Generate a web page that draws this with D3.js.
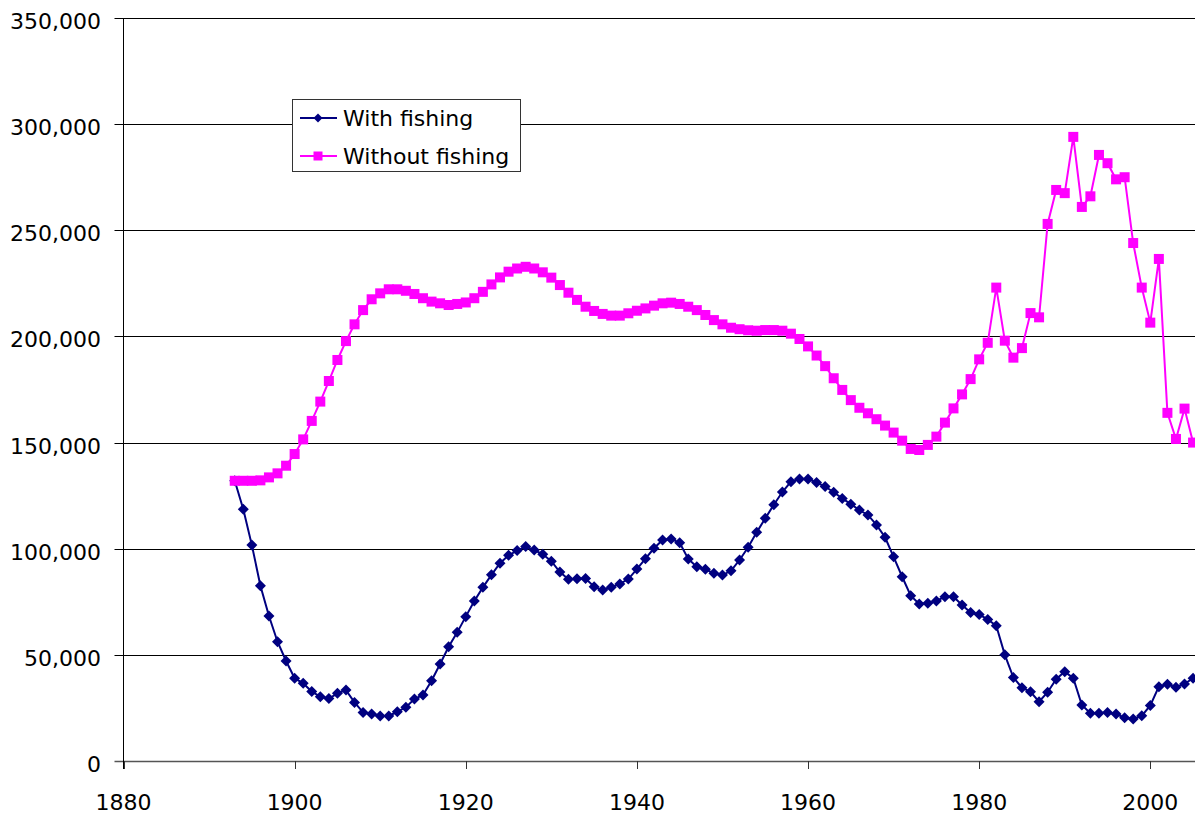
<!DOCTYPE html>
<html>
<head>
<meta charset="utf-8">
<style>
    body { margin: 0; background: #fff; }
    text { font-family: "DejaVu Sans", Verdana, sans-serif; font-size: 22px; fill: #000; }
</style>
<script src="https://d3js.org/d3.v7.min.js"></script>
</head>
<body>
<svg width="1195" height="816"></svg>
<script>

// values, one per year from 1893 to 2005
var withFishing = [
    132000, 118600, 101700, 82600, 68300, 56200, 47100,
    39000, 36600, 32700, 30300, 29400, 31900, 33400, 27600, 22900, 22100,
    21200, 21200, 23200, 25300, 29200, 31100, 37800, 45700, 53800, 60600,
    68000, 75400, 81800, 87700, 93200, 96900, 99100, 101000, 99400, 97400,
    94100, 89000, 85600, 85900, 86000, 82100, 80500, 81800, 83400, 85700,
    90400, 95300, 100200, 104100, 104600, 102800, 95200, 91500, 90300, 88400,
    87600, 89600, 94700, 100700, 107700, 114300, 120700, 126700, 131600, 132800,
    132800, 131200, 129300, 126600, 123700, 121000, 118200, 115900, 111200, 105400,
    96200, 86800, 77900, 74000, 74300, 75400, 77400, 77400, 73500, 69900,
    69000, 66700, 63700, 50000, 39300, 34500, 32600, 27900, 32400, 38500,
    42100, 39000, 26400, 22500, 22500, 22800, 22100, 20400, 19800, 21300,
    26200, 35000, 36100, 34700, 36300, 39000
];

var withoutFishing = [
    132000, 132000, 132000, 132200, 133600, 135500, 139100,
    144600, 151500, 160200, 169300, 179000, 188900, 197800, 205700, 212400, 217500,
    220300, 222200, 222200, 221500, 220000, 218000, 216400, 215600, 214800, 215300,
    216000, 218000, 221000, 224500, 227800, 230500, 232000, 232800, 232000, 230200,
    227700, 224200, 220600, 217200, 214000, 212000, 210600, 209800, 209800, 210900,
    212100, 213200, 214500, 215600, 215900, 215300, 214000, 212400, 210100, 207700,
    205700, 204100, 203400, 202900, 202700, 203000, 203000, 202700, 201300, 198800,
    195300, 191000, 186000, 180300, 174800, 170000, 166400, 163800, 161000, 158000,
    154700, 150900, 147000, 146500, 148900, 152800, 159400, 166100, 172700, 179900,
    189200, 197000, 223000, 198000, 190000, 194500, 211000, 209000, 253000, 269000,
    267500, 294000, 261000, 266000, 285500, 281600, 274000, 275000, 244000, 223000,
    206500, 236500, 164000, 151700, 166000, 150000
];

var firstYear = 1893;
var years = withFishing.map(function(d, i) { return firstYear + i; });

var xTicks = [1880, 1900, 1920, 1940, 1960, 1980, 2000];
var yTicks = [0, 50000, 100000, 150000, 200000, 250000, 300000, 350000];

var seriesNames = ["With fishing", "Without fishing"];

var svg = d3.select("svg"),
    plotLeft = 123.5,
    plotRight = 1195,
    plotTop = 18,
    plotBottom = 761;

var xScale = d3.scaleLinear().domain([1880, 2000]).range([plotLeft, 1150.3]);
var yScale = d3.scaleLinear().domain([0, 350000]).range([plotBottom, plotTop]);

var fmt = d3.format(",");

// gridlines
svg.append("g")
   .selectAll("line")
   .data(yTicks.slice(1))
   .enter().append("line")
   .attr("x1", plotLeft - 9)
   .attr("x2", plotRight)
   .attr("y1", function(d) { return Math.round(yScale(d)) + 0.5; })
   .attr("y2", function(d) { return Math.round(yScale(d)) + 0.5; })
   .attr("stroke", "#000")
   .attr("stroke-width", 1);

// y labels
svg.append("g")
   .selectAll("text")
   .data(yTicks)
   .enter().append("text")
   .attr("x", 101)
   .attr("y", function(d) { return yScale(d) + 11; })
   .attr("text-anchor", "end")
   .text(function(d) { return fmt(d); });

// x axis
svg.append("line")
   .attr("x1", plotLeft - 9).attr("x2", plotRight)
   .attr("y1", plotBottom + 0.5).attr("y2", plotBottom + 0.5)
   .attr("stroke", "#555").attr("stroke-width", 1.5);

svg.append("g")
   .selectAll("line")
   .data(xTicks)
   .enter().append("line")
   .attr("x1", function(d) { return Math.round(xScale(d)) + 0.5; })
   .attr("x2", function(d) { return Math.round(xScale(d)) + 0.5; })
   .attr("y1", plotBottom)
   .attr("y2", plotBottom + 8)
   .attr("stroke", "#333");

svg.append("g")
   .selectAll("text")
   .data(xTicks)
   .enter().append("text")
   .attr("x", function(d) { return xScale(d); })
   .attr("y", 810)
   .attr("text-anchor", "middle")
   .text(function(d) { return d; });

// y axis
svg.append("line")
   .attr("x1", plotLeft).attr("x2", plotLeft)
   .attr("y1", plotTop).attr("y2", plotBottom + 8)
   .attr("stroke", "#000");

var line = d3.line()
    .x(function(d, i) { return xScale(years[i]); })
    .y(function(d) { return yScale(d); });

var diamond = "M0,-5.5L5.5,0L0,5.5L-5.5,0Z";
var sq = 10;

// with fishing
svg.append("path")
   .datum(withFishing)
   .attr("d", line)
   .attr("fill", "none")
   .attr("stroke", "#000080")
   .attr("stroke-width", 2);

svg.append("g")
   .selectAll("path")
   .data(withFishing)
   .enter().append("path")
   .attr("d", diamond)
   .attr("transform", function(d, i) { return "translate(" + xScale(years[i]) + "," + yScale(d) + ")"; })
   .attr("fill", "#000080");

// without fishing
svg.append("path")
   .datum(withoutFishing)
   .attr("d", line)
   .attr("fill", "none")
   .attr("stroke", "#FF00FF")
   .attr("stroke-width", 2);

svg.append("g")
   .selectAll("rect")
   .data(withoutFishing)
   .enter().append("rect")
   .attr("x", function(d, i) { return xScale(years[i]) - sq / 2; })
   .attr("y", function(d) { return yScale(d) - sq / 2; })
   .attr("width", sq)
   .attr("height", sq)
   .attr("fill", "#FF00FF");

// legend
var legend = svg.append("g").attr("transform", "translate(292,99)");

legend.append("rect")
   .attr("x", 0.5).attr("y", 0.5)
   .attr("width", 228).attr("height", 72)
   .attr("fill", "#fff")
   .attr("stroke", "#333");

var rowY = [19, 57];
var colors = ["#000080", "#FF00FF"];

seriesNames.forEach(function(name, i) {
    legend.append("line")
       .attr("x1", 8).attr("x2", 45)
       .attr("y1", rowY[i]).attr("y2", rowY[i])
       .attr("stroke", colors[i]).attr("stroke-width", 2);
    if (i == 0) {
        legend.append("path")
           .attr("d", "M0,-4.5L4.5,0L0,4.5L-4.5,0Z")
           .attr("transform", "translate(26," + rowY[i] + ")")
           .attr("fill", colors[i]);
    } else {
        legend.append("rect")
           .attr("x", 21.5).attr("y", rowY[i] - 4.5)
           .attr("width", 9).attr("height", 9)
           .attr("fill", colors[i]);
    }
    legend.append("text")
       .attr("x", 51)
       .attr("y", rowY[i] + 8)
       .text(name);
});

</script>
</body>
</html>
